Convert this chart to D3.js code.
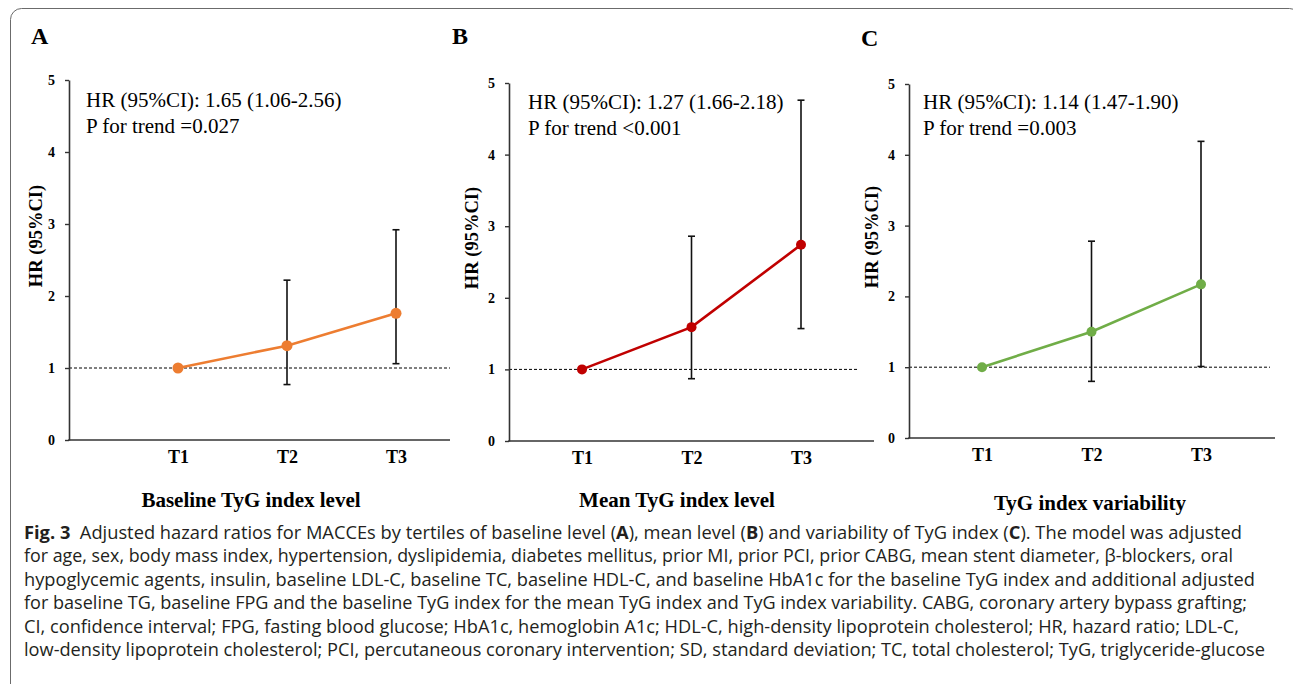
<!DOCTYPE html>
<html>
<head>
<meta charset="utf-8">
<script src="https://cdn.jsdelivr.net/npm/d3@7/dist/d3.min.js"></script>
<style>
  html, body { margin: 0; padding: 0; background: #fff; }
  svg { display: block; }
</style>
</head>
<body>
<svg id="fig" width="1293" height="684"></svg>
<script>
// tertile categories and y ticks
var tertiles = ["T1", "T2", "T3"];
var yTicks = [0, 1, 2, 3, 4, 5];

// panel A: baseline TyG index level
var hrBaseline = [1.00, 1.31, 1.76];
var loBaseline = [null, 0.77, 1.06];
var hiBaseline = [null, 2.22, 2.92];

// panel B: mean TyG index level
var hrMean = [1.00, 1.59, 2.74];
var loMean = [null, 0.87, 1.57];
var hiMean = [null, 2.86, 4.76];

// panel C: TyG index variability
var hrVar = [1.00, 1.50, 2.17];
var loVar = [null, 0.80, 1.01];
var hiVar = [null, 2.78, 4.19];

var panelLetters = ["A", "B", "C"];
var panelTitles = ["Baseline TyG index level", "Mean TyG index level", "TyG index variability"];
var hrTexts = ["HR (95%CI): 1.65 (1.06-2.56)", "HR (95%CI): 1.27 (1.66-2.18)", "HR (95%CI): 1.14 (1.47-1.90)"];
var pTexts = ["P for trend =0.027", "P for trend <0.001", "P for trend =0.003"];
var lineColors = ["#ED7D31", "#C00000", "#70AD47"];

// caption, *...* = bold
var captionLines = [
  "*Fig. 3*  Adjusted hazard ratios for MACCEs by tertiles of baseline level (*A*), mean level (*B*) and variability of TyG index (*C*). The model was adjusted",
  "for age, sex, body mass index, hypertension, dyslipidemia, diabetes mellitus, prior MI, prior PCI, prior CABG, mean stent diameter, \u03b2-blockers, oral",
  "hypoglycemic agents, insulin, baseline LDL-C, baseline TC, baseline HDL-C, and baseline HbA1c for the baseline TyG index and additional adjusted",
  "for baseline TG, baseline FPG and the baseline TyG index for the mean TyG index and TyG index variability. CABG, coronary artery bypass grafting;",
  "CI, confidence interval; FPG, fasting blood glucose; HbA1c, hemoglobin A1c; HDL-C, high-density lipoprotein cholesterol; HR, hazard ratio; LDL-C,",
  "low-density lipoprotein cholesterol; PCI, percutaneous coronary intervention; SD, standard deviation; TC, total cholesterol; TyG, triglyceride-glucose"
];

var series = [
  { hr: hrBaseline, lo: loBaseline, hi: hiBaseline },
  { hr: hrMean, lo: loMean, hi: hiMean },
  { hr: hrVar, lo: loVar, hi: hiVar }
];

// layout of each panel (pixels)
var layout = [
  { left: 69, right: 450, first: 178, last: 396, y0: 440, y5: 80, dashEnd: 450, lx: 31, ly: 44, tx: 86, ty: 107, titleX: 251, titleY: 507, yLabX: 36 },
  { left: 509, right: 874, first: 582, last: 801, y0: 441, y5: 83, dashEnd: 859, lx: 452, ly: 44, tx: 528, ty: 109, titleX: 677, titleY: 507, yLabX: 472 },
  { left: 909, right: 1275, first: 982, last: 1201, y0: 438, y5: 84, dashEnd: 1270, lx: 861, ly: 46, tx: 923, ty: 109, titleX: 1090, titleY: 510, yLabX: 872 }
];

var svg = d3.select("#fig");
var serif = "'Liberation Serif', 'Times New Roman', serif";

// outer frame
svg.append("rect")
  .attr("x", 10.5).attr("y", 8.5)
  .attr("width", 1290).attr("height", 720)
  .attr("rx", 11).attr("ry", 11)
  .attr("fill", "none")
  .attr("stroke", "#6b6b6b")
  .attr("stroke-width", 1);

series.forEach(function (s, i) {
  var L = layout[i];
  var g = svg.append("g");

  var x = d3.scalePoint().domain(tertiles).range([L.first, L.last]);
  var y = d3.scaleLinear().domain([0, 5]).range([L.y0, L.y5]);

  // panel letter
  g.append("text")
    .attr("x", L.lx).attr("y", L.ly)
    .style("font", "bold 24px " + serif)
    .text(panelLetters[i]);

  // dashed reference line at HR = 1
  g.append("line")
    .attr("x1", L.left).attr("x2", L.dashEnd)
    .attr("y1", y(1)).attr("y2", y(1))
    .attr("stroke", "#000")
    .attr("stroke-width", 1)
    .attr("stroke-dasharray", "3,2");

  // y axis
  var yAxis = g.append("g")
    .attr("transform", "translate(" + L.left + ",0)")
    .call(d3.axisLeft(y).tickValues(yTicks).tickSize(4).tickSizeOuter(0).tickPadding(10).tickFormat(d3.format("d")));
  yAxis.select(".domain").attr("stroke", "#333").attr("stroke-width", 1.6);
  yAxis.selectAll(".tick line").attr("stroke", "#333").attr("stroke-width", 1.4);
  yAxis.selectAll(".tick text")
    .attr("fill", "#000")
    .style("font", "bold 14px " + serif);

  // x axis line
  g.append("line")
    .attr("x1", L.left - 0.8).attr("x2", L.right)
    .attr("y1", y(0)).attr("y2", y(0))
    .attr("stroke", "#333")
    .attr("stroke-width", 1.6);

  var xAxis = g.append("g")
    .attr("transform", "translate(0," + y(0) + ")")
    .call(d3.axisBottom(x).tickSize(0).tickPadding(10));
  xAxis.select(".domain").remove();
  xAxis.selectAll(".tick text")
    .attr("fill", "#000")
    .attr("dy", "0.71em")
    .style("font", "bold 18px " + serif);

  // axis titles
  g.append("text")
    .attr("x", L.titleX).attr("y", L.titleY)
    .attr("text-anchor", "middle")
    .style("font", "bold 21px " + serif)
    .text(panelTitles[i]);

  g.append("text")
    .attr("transform", "translate(" + L.yLabX + "," + ((L.y0 + L.y5) / 2 - 24) + ") rotate(-90)")
    .attr("text-anchor", "middle")
    .attr("dy", "0.35em")
    .style("font", "bold 18.5px " + serif)
    .text("HR (95%CI)");

  // annotation
  g.append("text")
    .attr("x", L.tx).attr("y", L.ty)
    .style("font", "21px " + serif)
    .text(hrTexts[i]);
  g.append("text")
    .attr("x", L.tx).attr("y", L.ty + 26)
    .style("font", "21px " + serif)
    .text(pTexts[i]);

  var pts = tertiles.map(function (t, k) {
    return { t: t, hr: s.hr[k], lo: s.lo[k], hi: s.hi[k] };
  });

  // error bars
  var eb = g.selectAll(".eb").data(pts.filter(function (d) { return d.lo != null; }))
    .enter().append("g");
  eb.append("line")
    .attr("x1", function (d) { return x(d.t); })
    .attr("x2", function (d) { return x(d.t); })
    .attr("y1", function (d) { return y(d.lo); })
    .attr("y2", function (d) { return y(d.hi); })
    .attr("stroke", "#111").attr("stroke-width", 1.6);
  ["lo", "hi"].forEach(function (k) {
    eb.append("line")
      .attr("x1", function (d) { return x(d.t) - 3.5; })
      .attr("x2", function (d) { return x(d.t) + 3.5; })
      .attr("y1", function (d) { return y(d[k]); })
      .attr("y2", function (d) { return y(d[k]); })
      .attr("stroke", "#111").attr("stroke-width", 1.6);
  });

  // line + markers
  g.append("path")
    .datum(pts)
    .attr("fill", "none")
    .attr("stroke", lineColors[i])
    .attr("stroke-width", 2.6)
    .attr("d", d3.line().x(function (d) { return x(d.t); }).y(function (d) { return y(d.hr); }));

  g.selectAll(".pt").data(pts).enter().append("circle")
    .attr("cx", function (d) { return x(d.t); })
    .attr("cy", function (d) { return y(d.hr); })
    .attr("r", i === 0 ? 5.5 : 5)
    .attr("fill", lineColors[i]);
});

// caption
var capEnds = [1242, 1233, 1255, 1247, 1239, 1265];
captionLines.forEach(function (line, i) {
  var t = svg.append("text")
    .attr("x", 24).attr("y", 539 + i * 23.4)
    .attr("textLength", capEnds[i] - 24)
    .attr("lengthAdjust", "spacingAndGlyphs")
    .attr("fill", "#231f20")
    .style("font", "17.5px 'Open Sans', 'Noto Sans', sans-serif")
    .attr("xml:space", "preserve");
  line.split("*").forEach(function (part, k) {
    if (!part) return;
    t.append("tspan")
      .style("font-weight", k % 2 === 1 ? "bold" : "normal")
      .text(part);
  });
});
</script>
</body>
</html>
